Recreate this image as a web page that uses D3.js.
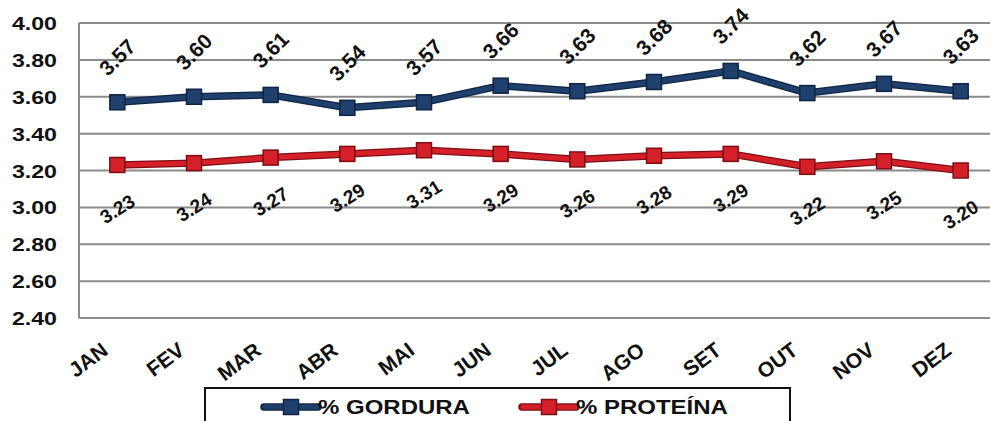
<!DOCTYPE html>
<html>
<head>
<meta charset="utf-8">
<script src="https://cdn.jsdelivr.net/npm/d3@7"></script>
<style>
  body { margin: 0; background: #fff; }
  text { font-family: "Liberation Sans", Arial, sans-serif; font-weight: bold; fill: #111; }
</style>
</head>
<body>
<svg width="990" height="421"></svg>
<script>
// months and series
var months = ["JAN","FEV","MAR","ABR","MAI","JUN","JUL","AGO","SET","OUT","NOV","DEZ"];
var gordura = [3.57,3.60,3.61,3.54,3.57,3.66,3.63,3.68,3.74,3.62,3.67,3.63];
var proteina = [3.23,3.24,3.27,3.29,3.31,3.29,3.26,3.28,3.29,3.22,3.25,3.20];
var yTicks = [2.40,2.60,2.80,3.00,3.20,3.40,3.60,3.80,4.00];
var seriesNames = ["% GORDURA","% PROTEÍNA"];

var svg = d3.select("svg"),
    margin = {top: 23, left: 79, bottom: 318, right: 999};

var x = d3.scaleBand().domain(months).range([margin.left, margin.right]),
    y = d3.scaleLinear().domain([2.4, 4.0]).range([margin.bottom, margin.top]);

var series = [
  {name: seriesNames[0], values: gordura, fill: "#1f3f6c", dark: "#0f2545", labelDy: -45, angle: -45, size: 21},
  {name: seriesNames[1], values: proteina, fill: "#d5202a", dark: "#7d0e14", labelDy: 44, angle: -32, size: 19}
];

// grid
svg.append("g").selectAll("line")
  .data(yTicks)
  .enter().append("line")
    .attr("x1", margin.left).attr("x2", 990)
    .attr("y1", function(d) { return y(d); })
    .attr("y2", function(d) { return y(d); })
    .attr("stroke", "#8a8a8a").attr("stroke-width", 2);

svg.append("line")
  .attr("x1", margin.left).attr("x2", margin.left)
  .attr("y1", y(4.0)).attr("y2", y(2.4))
  .attr("stroke", "#8a8a8a").attr("stroke-width", 2);

// y tick labels (the picture is stretched sideways)
svg.append("g").selectAll("text")
  .data(yTicks)
  .enter().append("text")
    .attr("transform", function(d) { return "translate(57," + (y(d) + 7) + ") scale(1.22,1)"; })
    .attr("text-anchor", "end")
    .style("font-size", "19px")
    .text(function(d) { return d.toFixed(2); });

// x labels
svg.append("g").selectAll("text")
  .data(months)
  .enter().append("text")
    .attr("transform", function(d) {
      return "translate(" + (x(d) + x.bandwidth() / 2 - 8) + ",353) rotate(-37)";
    })
    .attr("text-anchor", "end")
    .style("font-size", "21px")
    .text(function(d) { return d; });

var line = d3.line()
  .x(function(d, i) { return x(months[i]) + x.bandwidth() / 2; })
  .y(function(d) { return y(d); });

series.forEach(function(s) {
  var g = svg.append("g");
  g.append("path").datum(s.values)
    .attr("d", line).attr("fill", "none")
    .attr("stroke", s.dark).attr("stroke-width", 7.5).attr("stroke-linejoin", "round");
  g.append("path").datum(s.values)
    .attr("d", line).attr("fill", "none")
    .attr("stroke", s.fill).attr("stroke-width", 5).attr("stroke-linejoin", "round");
  g.selectAll("rect")
    .data(s.values)
    .enter().append("rect")
      .attr("x", function(d, i) { return x(months[i]) + x.bandwidth() / 2 - 7.5; })
      .attr("y", function(d) { return y(d) - 7.5; })
      .attr("width", 15).attr("height", 15)
      .attr("fill", s.fill).attr("stroke", s.dark).attr("stroke-width", 1.5);
  g.selectAll("text")
    .data(s.values)
    .enter().append("text")
      .attr("transform", function(d, i) {
        return "translate(" + (x(months[i]) + x.bandwidth() / 2) + "," + (y(d) + s.labelDy) + ") rotate(" + s.angle + ")";
      })
      .attr("text-anchor", "middle")
      .attr("dy", "0.35em")
      .style("font-size", s.size + "px")
      .text(function(d) { return d.toFixed(2); });
});

// legend
svg.append("rect")
  .attr("x", 205).attr("y", 388).attr("width", 585).attr("height", 50)
  .attr("fill", "#fff").attr("stroke", "#111").attr("stroke-width", 2);

var legendX = [264, 522];
series.forEach(function(s, i) {
  var lg = svg.append("g").attr("transform", "translate(" + legendX[i] + ",407)");
  lg.append("line").attr("x1", 0).attr("x2", 54)
    .attr("stroke", s.dark).attr("stroke-width", 7.5).attr("stroke-linecap", "round");
  lg.append("line").attr("x1", 1).attr("x2", 53)
    .attr("stroke", s.fill).attr("stroke-width", 5).attr("stroke-linecap", "round");
  lg.append("rect").attr("x", 19.5).attr("y", -7.5).attr("width", 15).attr("height", 15)
    .attr("fill", s.fill).attr("stroke", s.dark).attr("stroke-width", 1.5);
  lg.append("text")
    .attr("transform", "translate(54,7) scale(1.2,1)")
    .style("font-size", "20px")
    .text(s.name);
});
</script>
</body>
</html>
